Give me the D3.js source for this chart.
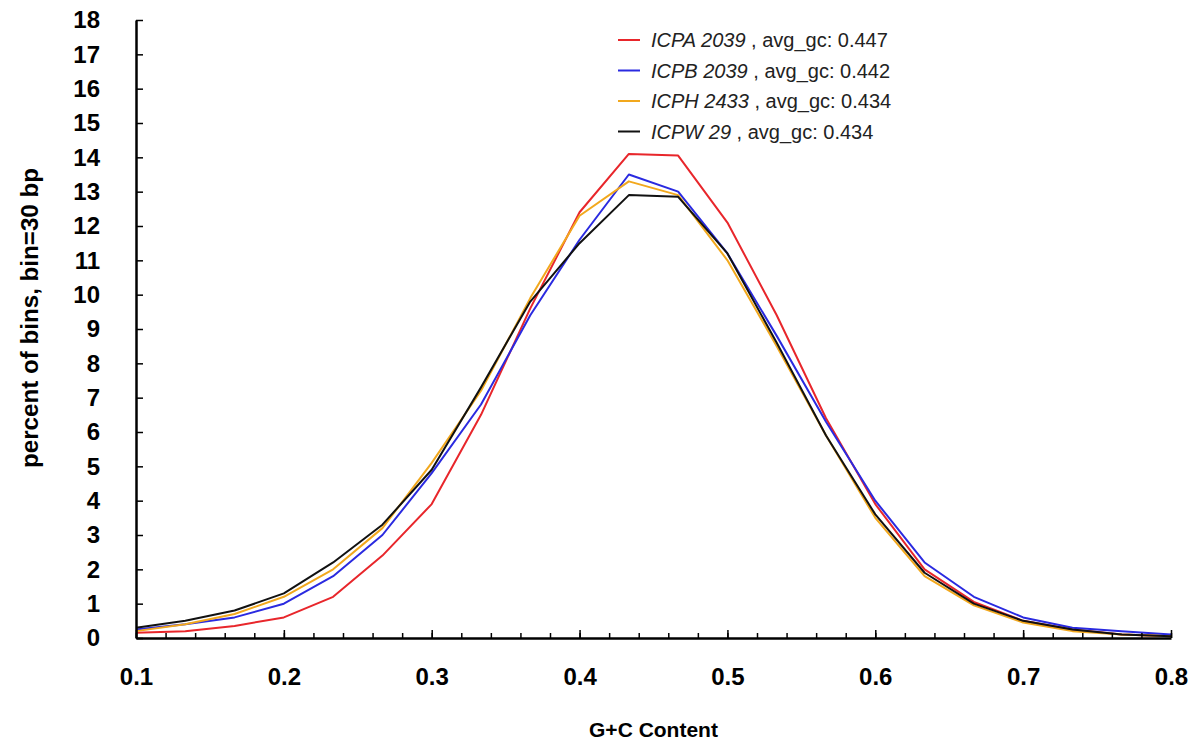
<!DOCTYPE html>
<html>
<head>
<meta charset="utf-8">
<script src="https://cdn.jsdelivr.net/npm/d3@7"></script>
<style>
  body { margin: 0; background: #fff; }
  svg text { font-family: "Liberation Sans Narrow", "Liberation Sans", Arial, sans-serif; }
</style>
</head>
<body>
<div id="chart"></div>
<script>
// размеры
const width = 1194;
const height = 746;
const margin = { top: 20, right: 23, bottom: 108, left: 136 };

// данные: доля GC по бинам k/30
const gcBins = d3.range(3, 25).map(k => k / 30);
const xTickLabels = [0.1, 0.2, 0.3, 0.4, 0.5, 0.6, 0.7, 0.8];
const yTickLabels = d3.range(0, 19);

const icpa = [0.15, 0.2, 0.35, 0.6, 1.2, 2.4, 3.9, 6.5, 9.6, 12.4, 14.1, 14.05, 12.1, 9.4, 6.4, 3.9, 2.0, 1.05, 0.5, 0.25, 0.1, 0.05];
const icpb = [0.25, 0.4, 0.6, 1.0, 1.8, 3.0, 4.8, 6.8, 9.4, 11.6, 13.5, 13.0, 11.2, 8.8, 6.3, 4.0, 2.2, 1.2, 0.6, 0.3, 0.2, 0.1];
const icph = [0.2, 0.4, 0.7, 1.2, 2.0, 3.2, 5.1, 7.2, 9.9, 12.3, 13.3, 12.9, 11.0, 8.5, 5.9, 3.5, 1.8, 0.95, 0.45, 0.2, 0.1, 0.05];
const icpw = [0.3, 0.5, 0.8, 1.3, 2.2, 3.3, 4.9, 7.3, 9.8, 11.5, 12.9, 12.85, 11.2, 8.6, 5.9, 3.6, 1.9, 1.0, 0.5, 0.25, 0.1, 0.05];

const seriesNames = ["ICPA 2039", "ICPB 2039", "ICPH 2433", "ICPW 29"];
const avgGc = ["0.447", "0.442", "0.434", "0.434"];
const seriesValues = [icpa, icpb, icph, icpw];
const colors = ["#e8262b", "#2a2ae0", "#f2a81d", "#111111"];

const svg = d3.select("#chart").append("svg")
  .attr("width", width)
  .attr("height", height);

const x = d3.scaleLinear().domain([0.1, 0.8]).range([margin.left, width - margin.right]);
const y = d3.scaleLinear().domain([0, 18]).range([height - margin.bottom, margin.top]);

// линии
const line = d3.line().x((d, i) => x(gcBins[i])).y(d => y(d));
seriesValues.forEach((vals, i) => {
  svg.append("path")
    .datum(vals)
    .attr("fill", "none")
    .attr("stroke", colors[i])
    .attr("stroke-width", 2)
    .attr("stroke-linejoin", "round")
    .attr("d", line);
});

// ось X: малые деления каждые 0.02
const xMinor = svg.append("g")
  .attr("transform", `translate(0,${y(0)})`)
  .call(d3.axisTop(x).tickValues(d3.range(0, 36).map(i => 0.1 + i * 0.02)).tickSize(5).tickFormat(""));
xMinor.select(".domain").remove();
xMinor.selectAll("line").attr("stroke-width", 1.5);

const xAxis = svg.append("g")
  .attr("transform", `translate(0,${y(0)})`)
  .call(d3.axisBottom(x).tickValues(xTickLabels).tickSize(0).tickPadding(30).tickFormat(d3.format(".1f")));
xAxis.select(".domain").attr("stroke-width", 2.5);
xAxis.selectAll("text").attr("font-size", 24).attr("font-weight", "bold").attr("fill", "#000");
svg.append("g")
  .attr("transform", `translate(0,${y(0)})`)
  .call(d3.axisTop(x).tickValues(xTickLabels).tickSize(8).tickFormat(""))
  .call(g => g.select(".domain").remove())
  .selectAll("line").attr("stroke-width", 1.5);

// ось Y
const yAxis = svg.append("g")
  .attr("transform", `translate(${x(0.1)},0)`)
  .call(d3.axisLeft(y).tickValues(yTickLabels).tickSize(0).tickPadding(36));
yAxis.select(".domain").attr("stroke-width", 2.5);
yAxis.selectAll("text").attr("font-size", 24).attr("font-weight", "bold").attr("fill", "#000");
svg.append("g")
  .attr("transform", `translate(${x(0.1)},0)`)
  .call(d3.axisRight(y).tickValues(yTickLabels).tickSize(7).tickFormat(""))
  .call(g => g.select(".domain").remove())
  .selectAll("line").attr("stroke-width", 1.5);

// подписи осей
svg.append("text")
  .attr("x", x(0.45))
  .attr("y", 737)
  .attr("text-anchor", "middle")
  .attr("font-size", 21)
  .attr("font-weight", "bold")
  .text("G+C Content");

svg.append("text")
  .attr("transform", `translate(38,318) rotate(-90)`)
  .attr("text-anchor", "middle")
  .attr("font-size", 23)
  .attr("font-weight", "bold")
  .attr("textLength", 300)
  .attr("lengthAdjust", "spacingAndGlyphs")
  .text("percent of bins, bin=30 bp");

// легенда
const legend = svg.append("g").attr("transform", "translate(618,40)");
seriesNames.forEach((name, i) => {
  const row = legend.append("g").attr("transform", `translate(0,${i * 30.5})`);
  row.append("line")
    .attr("x1", 0).attr("x2", 22)
    .attr("stroke", colors[i]).attr("stroke-width", 2);
  const t = row.append("text")
    .attr("x", 33).attr("y", 7)
    .attr("font-size", 20)
    .attr("fill", "#222");
  t.append("tspan").attr("font-style", "italic").text(name);
  t.append("tspan").text(` , avg_gc: ${avgGc[i]}`);
});
</script>
</body>
</html>
